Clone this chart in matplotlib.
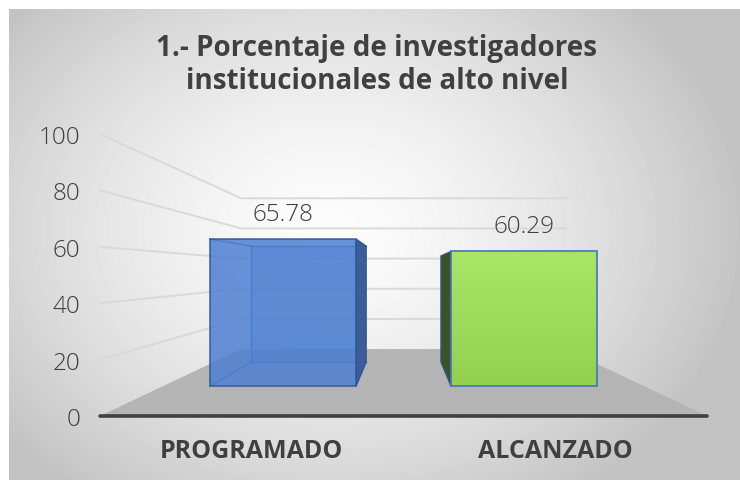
import numpy as np
import matplotlib.pyplot as plt
from matplotlib.patches import Polygon

categorias = ['PROGRAMADO', 'ALCANZADO']
valores = [65.78, 60.29]
marcas_y = [0, 20, 40, 60, 80, 100]
titulo = '1.- Porcentaje de investigadores\ninstitucionales de alto nivel'

fuente = 'Open Sans'
gris_texto = '#404040'

# perspectiva: punto de fuga (en unidades de datos) y profundidad del piso
fuga_x, fuga_y = 0.5, 51.0
k_prof = 0.87
prof_barra = (0.30, 0.69)
medio_ancho = 0.303


def proy(x, y, d):
    s = 1.0 / (1.0 + k_prof * d)
    return fuga_x + (x - fuga_x) * s, fuga_y + (y - fuga_y) * s


fig = plt.figure(figsize=(7.4, 4.81), dpi=100)

# fondo con degradado radial
fondo = fig.add_axes([9 / 740, 0, 731 / 740, 471 / 481], zorder=-2)
yy, xx = np.mgrid[0:471, 0:731]
r = np.sqrt(((xx - 320) / 420.0) ** 2 + ((yy - 220) / 330.0) ** 2)
gris = np.clip(252 - 58 * r ** 1.5, 196, 252) / 255.0
fondo.imshow(gris, cmap='gray', vmin=0, vmax=1, aspect='auto', interpolation='bilinear')
fondo.axis('off')

ax = fig.add_axes([100 / 740, 64 / 481, 607 / 740, 282 / 481])
ax.set_xlim(-0.5, 1.5)
ax.set_ylim(0, 100)
ax.patch.set_visible(False)
for lado in ax.spines.values():
    lado.set_visible(False)

# lineas de division en pared izquierda y pared del fondo
for v in marcas_y[1:]:
    pts = [proy(-0.5, v, 0), proy(-0.5, v, 1), proy(1.5, v, 1)]
    ax.plot([p[0] for p in pts], [p[1] for p in pts], color='#d9d9d9', lw=1.4,
            clip_on=False, zorder=1)

# piso
piso = [proy(-0.5, 0, 0), proy(1.5, 0, 0), proy(1.5, 0, 1), proy(-0.5, 0, 1)]
ax.add_patch(Polygon(piso, closed=True, facecolor='#b4b4b4', edgecolor='none',
                     clip_on=False, zorder=2))
ax.plot([-0.5, 1.5], [0, 0], color=gris_texto, lw=2.6, solid_capstyle='round',
        clip_on=False, zorder=6)

d0, d1 = prof_barra
for i, v in enumerate(valores):
    x0, x1 = i - medio_ancho, i + medio_ancho
    frente = [proy(x0, 0, d0), proy(x1, 0, d0), proy(x1, v, d0), proy(x0, v, d0)]
    if i == 0:
        # barra azul semitransparente: se ven las aristas del fondo
        atras = [proy(x0, 0, d1), proy(x1, 0, d1), proy(x1, v, d1), proy(x0, v, d1)]
        lateral = [proy(x1, 0, d0), proy(x1, 0, d1), proy(x1, v, d1), proy(x1, v, d0)]
        ax.add_patch(Polygon(atras, closed=True, facecolor='#4a78c8', edgecolor='none',
                             alpha=0.35, clip_on=False, zorder=3))
        for a, b in [(atras[0], atras[3]), (atras[3], atras[2]), (atras[0], atras[1]),
                     (frente[0], atras[0]), (frente[3], atras[3])]:
            ax.plot([a[0], b[0]], [a[1], b[1]], color='#3763b0', lw=1.0,
                    clip_on=False, zorder=4)
        ax.add_patch(Polygon(lateral, closed=True, facecolor='#3d5d98', edgecolor='#2f5597',
                             lw=1.0, clip_on=False, zorder=4))
        ax.add_patch(Polygon(frente, closed=True, facecolor='#4f80d2', edgecolor='#2f5597',
                             lw=1.2, alpha=0.86, clip_on=False, zorder=5))
    else:
        lateral = [proy(x0, 0, d0), proy(x0, 0, d1), proy(x0, v, d1), proy(x0, v, d0)]
        ax.add_patch(Polygon(lateral, closed=True, facecolor='#3a5424', edgecolor='#2f5597',
                             lw=0.8, clip_on=False, zorder=4))
        cara = Polygon(frente, closed=True, facecolor='none', edgecolor='#4472c4',
                       lw=1.2, clip_on=False, zorder=6)
        ax.add_patch(cara)
        grad = np.linspace(0, 1, 64).reshape(-1, 1)
        verde = np.zeros((64, 1, 3))
        arriba = np.array([0xa9, 0xe6, 0x66]) / 255.0
        abajo = np.array([0x92, 0xd0, 0x50]) / 255.0
        verde[:, 0, :] = arriba * (1 - grad) + abajo * grad
        img = ax.imshow(verde, extent=(frente[0][0], frente[1][0], frente[0][1], frente[2][1]),
                        aspect='auto', origin='upper', zorder=5, clip_on=True)
        img.set_clip_path(Polygon(frente, closed=True, transform=ax.transData))
    # etiqueta de dato sobre la arista superior frontal
    xt, yt = proy(i, v, d0)
    ax.annotate(f'{v:.2f}', (xt, yt), xytext=(0, 18), textcoords='offset points',
                ha='center', va='center', fontsize=17.5, color=gris_texto,
                family=fuente, fontweight='light', zorder=7)

ax.set_xlim(-0.5, 1.5)
ax.set_ylim(0, 100)
ax.set_yticks(marcas_y)
ax.set_yticklabels([str(m) for m in marcas_y], fontsize=17.5, color=gris_texto,
                   family=fuente, fontweight='light')
ax.set_xticks(range(len(categorias)))
ax.set_xticklabels(categorias, fontsize=18, color=gris_texto, family=fuente,
                   fontweight='bold')
ax.tick_params(axis='y', length=0, pad=14)
ax.tick_params(axis='x', length=0, pad=15.5)

fig.text(377 / 740, 1 - 65 / 481, titulo, ha='center', va='center', fontsize=20,
         fontweight='bold', color=gris_texto, family=fuente, linespacing=1.22)

fig.savefig('out.png', dpi=100, facecolor='white')
